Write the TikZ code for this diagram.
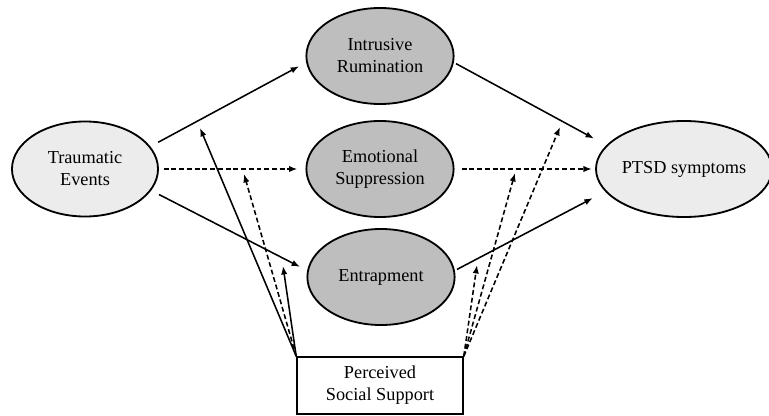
\documentclass[tikz,border=0pt]{standalone}
\usepackage{fontspec}
\setmainfont{Liberation Serif}
\usetikzlibrary{arrows.meta,shapes.geometric}

\definecolor{outerfill}{HTML}{ECECEC}
\definecolor{innerfill}{HTML}{BEBEBE}

\tikzset{
  var/.style={ellipse,draw,line width=1.3pt,inner sep=0pt,align=center,
    font=\fontsize{13}{15.6}\selectfont},
  outervar/.style={var,fill=outerfill},
  innervar/.style={var,fill=innerfill,minimum width=3.68cm,minimum height=2.4cm},
  link/.style={-{Latex[length=6pt,width=4.5pt]},line width=1.1pt},
  dlink/.style={link,dash pattern=on 3.5pt off 2pt}
}

\begin{document}
\begin{tikzpicture}[x=0.025cm,y=-0.025cm]
\useasboundingbox (0,0) rectangle (769,415);
% variables
\node[outervar,minimum width=3.65cm,minimum height=2.375cm] (trauma) at (85,169) {Traumatic\\Events};
\node[innervar] (rumin) at (380,56) {Intrusive\\Rumination};
\node[innervar] (suppr) at (380,169) {Emotional\\Suppression};
\node[innervar] (entrap) at (381,277) {Entrapment};
\node[outervar,minimum width=4.2cm,minimum height=2.4cm] (ptsd) at (684,169) {PTSD symptoms};
\node[draw,line width=1.1pt,minimum width=4.15cm,minimum height=1.425cm,align=center,
  font=\fontsize{13}{15.6}\selectfont] (support) at (380,385.5) {Perceived\\Social Support};
% paths
\draw[link,shorten <=0.22cm,shorten >=0.2cm] (trauma.19) -- (rumin.185);
\draw[dlink,shorten <=0.12cm,shorten >=0.2cm] (trauma.east) -- (suppr.west);
\draw[link,shorten <=0.22cm,shorten >=0.2cm] (trauma.-18) -- (entrap.175);
\draw[link,shorten <=0.06cm,shorten >=0.35cm] (rumin.-5) -- (ptsd.163);
\draw[dlink,shorten <=0.18cm,shorten >=0.08cm] (suppr.east) -- (ptsd.west);
\draw[link,shorten <=0.06cm,shorten >=0.35cm] (entrap.5) -- (ptsd.196);
% moderation
\coordinate (m1) at (200,128);
\coordinate (m2) at (244,174);
\coordinate (m3) at (283,266);
\coordinate (m4) at (477,265);
\coordinate (m5) at (515,173);
\coordinate (m6) at (560,127);
\draw[link] (support.north west) -- (m1);
\draw[dlink] (support.north west) -- (m2);
\draw[link] (support.north west) -- (m3);
\draw[dlink] (support.north east) -- (m4);
\draw[dlink] (support.north east) -- (m5);
\draw[dlink] (support.north east) -- (m6);
\end{tikzpicture}
\end{document}
